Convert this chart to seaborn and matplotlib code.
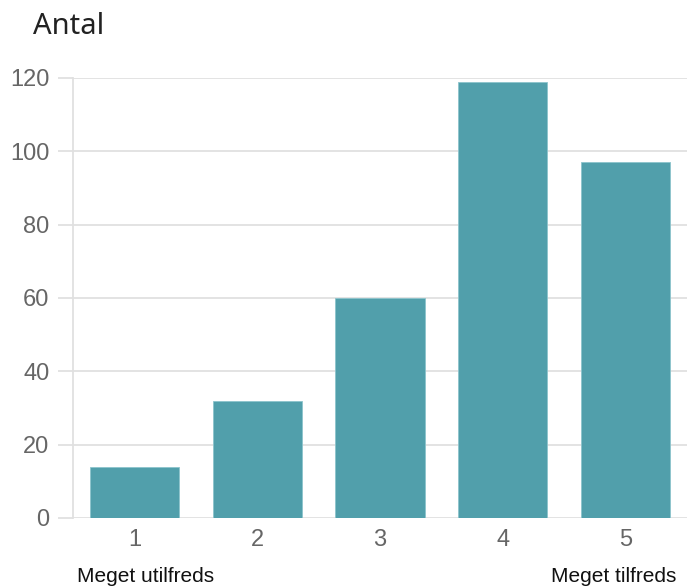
import matplotlib
matplotlib.use("Agg")
import matplotlib.pyplot as plt
import seaborn as sns
import pandas as pd

categories = ["1", "2", "3", "4", "5"]
values = [14, 32, 60, 119, 97]
yticks = [0, 20, 40, 60, 80, 100, 120]
title = "Antal"
left_label = "Meget utilfreds"
right_label = "Meget tilfreds"

sns.set_theme(style="white")
plt.rcParams['font.family'] = ['Liberation Sans', 'DejaVu Sans']

df = pd.DataFrame({"cat": categories, "val": values})

fig = plt.figure(figsize=(6.91, 5.88), dpi=100)
ax = fig.add_axes([73/691, 1-518/588, 614/691, 440/588])
sns.barplot(data=df, x="cat", y="val", color="#519FAB", saturation=1,
            width=0.725, edgecolor="#8cc4cc", linewidth=0.6, ax=ax, zorder=3)

grid_c = "#e0e0e0"
ax.set_ylim(0, 120)
ax.set_xlim(-0.5, 4.5)
ax.set_yticks(yticks)
ax.yaxis.grid(True, color=grid_c, linewidth=1.3, zorder=0)
ax.set_axisbelow(True)
for s in ["top", "right", "bottom"]:
    ax.spines[s].set_visible(False)
ax.spines["left"].set_color(grid_c)
ax.spines["left"].set_linewidth(1.3)
ax.tick_params(axis="y", length=11, width=1.3, color=grid_c, labelsize=17,
               labelcolor="#666666", pad=6, left=True)
ax.tick_params(axis="x", length=0, labelsize=17, labelcolor="#666666", pad=8)
ax.set_xlabel("")
ax.set_ylabel("")

fig.text(33/691, 1-27/588, title, fontsize=21, color="#222222",
         family=["Noto Sans", "DejaVu Sans"], va="center", ha="left")
fig.text(77/691, 1-576/588, left_label, fontsize=15, color="#111111",
         va="center", ha="left")
fig.text(676/691, 1-576/588, right_label, fontsize=15, color="#111111",
         va="center", ha="right")

fig.savefig("out.png", dpi=100)
